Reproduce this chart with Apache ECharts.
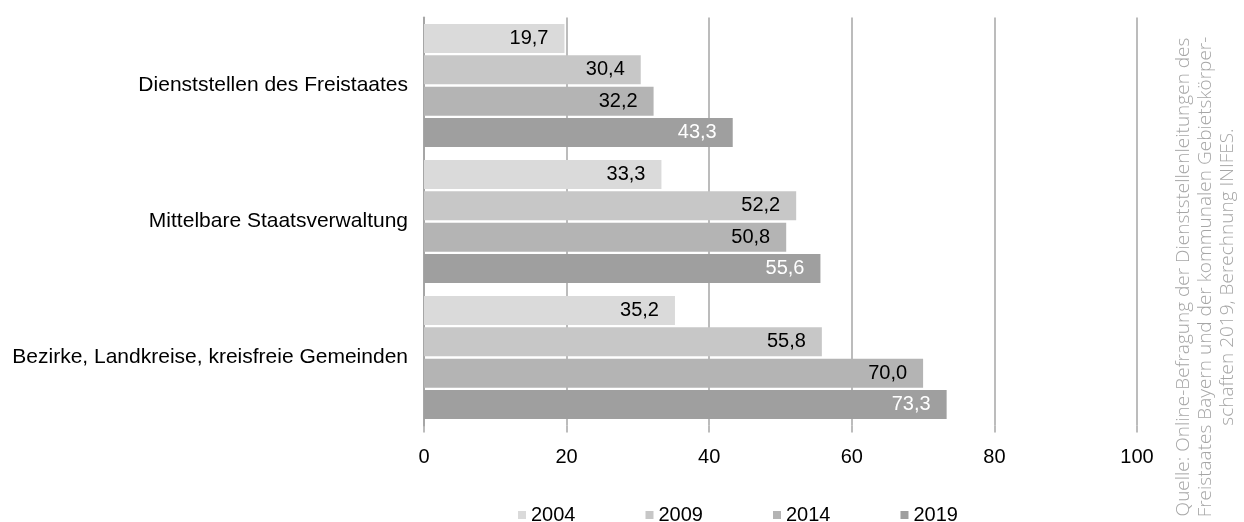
<!DOCTYPE html>
<html>
<head>
<meta charset="utf-8">
<script src="https://cdn.jsdelivr.net/npm/echarts@6/dist/echarts.min.js"></script>
<style>html,body{margin:0;padding:0;background:#fff;}#c{width:1244px;height:522px;}</style>
</head>
<body>
<div id="c"></div>
<script>
const categories = ['Dienststellen des Freistaates', 'Mittelbare Staatsverwaltung', 'Bezirke, Landkreise, kreisfreie Gemeinden'];
const years = ['2004', '2009', '2014', '2019'];
const v2004 = [19.7, 33.3, 35.2];
const v2009 = [30.4, 52.2, 55.8];
const v2014 = [32.2, 50.8, 70.0];
const v2019 = [43.3, 55.6, 73.3];
const xTicks = [0, 20, 40, 60, 80, 100];
const colors = ['#dadada', '#c7c7c7', '#b4b4b4', '#9f9f9f'];
const labelColors = ['#000', '#000', '#000', '#fff'];
const sourceText = 'Quelle: Online-Befragung der Dienststellenleitungen des\nFreistaates Bayern und der kommunalen Gebietskörper-\nschaften 2019, Berechnung INIFES.';

const seriesValues = [v2004, v2009, v2014, v2019];
const FONT = 'Liberation Sans, Arial, sans-serif';

const chart = echarts.init(document.getElementById('c'), null, {renderer: 'canvas'});
chart.setOption({
  animation: false,
  backgroundColor: '#fff',
  grid: {left: 424, right: 107, top: 17.5, bottom: 96.5, containLabel: false},
  xAxis: {
    type: 'value', min: 0, max: 100, interval: 20,
    axisLine: {show: false},
    axisTick: {show: true, length: 7, lineStyle: {color: '#a6a6a6', width: 1.5}},
    splitLine: {show: true, lineStyle: {color: '#a6a6a6', width: 1.5}},
    axisLabel: {color: '#000', fontSize: 20, fontFamily: FONT, margin: 22,
      formatter: v => xTicks.indexOf(v) >= 0 ? String(v) : ''}
  },
  yAxis: {
    type: 'category', data: categories, inverse: true,
    axisLine: {show: true, lineStyle: {color: '#a6a6a6', width: 2}},
    axisTick: {show: false},
    axisLabel: {color: '#000', fontSize: 21, fontFamily: FONT, margin: 16}
  },
  legend: {
    data: years, top: 500, left: 513, itemWidth: 8, itemHeight: 8, itemGap: 70,
    icon: 'rect',
    textStyle: {color: '#000', fontSize: 20, fontFamily: FONT}
  },
  series: years.map((y, i) => ({
    name: y, type: 'bar', data: seriesValues[i],
    barGap: '8%', barCategoryGap: '9.5%',
    itemStyle: {color: colors[i]},
    label: {show: true, position: 'insideRight', distance: 16, color: labelColors[i],
      fontSize: 20, fontFamily: FONT,
      formatter: p => p.value.toFixed(1).replace('.', ',')}
  })),
  graphic: [{
    type: 'text', x: 1206, y: 277, rotation: Math.PI / 2,
    style: {text: sourceText, fill: '#a6a6a6', font: '300 19px "Open Sans", sans-serif',
      align: 'center', verticalAlign: 'middle', lineHeight: 22}
  }]
});
</script>
</body>
</html>
